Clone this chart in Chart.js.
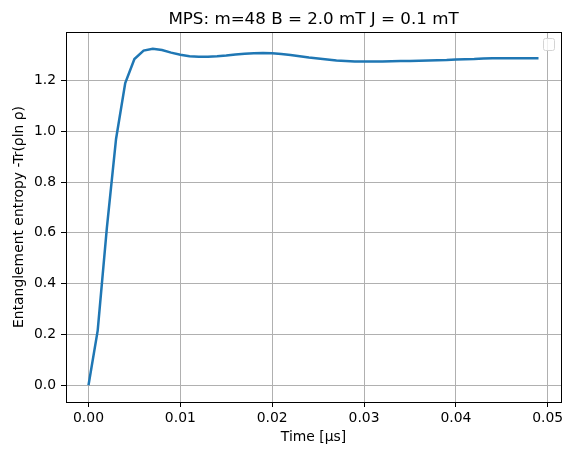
<!DOCTYPE html>
<html>
<head>
<meta charset="utf-8">
<script src="https://cdn.jsdelivr.net/npm/chart.js@4.4.1/dist/chart.umd.min.js"></script>
<style>
  html, body { margin: 0; padding: 0; background: #fff; }
  #wrap { width: 573px; height: 455px; }
</style>
</head>
<body>
<div id="wrap"><canvas id="chart"></canvas></div>
<script>
// time in microseconds
const times = [
  0.000, 0.001, 0.002, 0.003, 0.004, 0.005, 0.006, 0.007, 0.008, 0.009,
  0.010, 0.011, 0.012, 0.013, 0.014, 0.015, 0.016, 0.017, 0.018, 0.019,
  0.020, 0.021, 0.022, 0.023, 0.024, 0.025, 0.026, 0.027, 0.028, 0.029,
  0.030, 0.031, 0.032, 0.033, 0.034, 0.035, 0.036, 0.037, 0.038, 0.039,
  0.040, 0.041, 0.042, 0.043, 0.044, 0.045, 0.046, 0.047, 0.048, 0.049
];
// entanglement entropy
const entropy = [
  0.000, 0.215, 0.620, 0.970, 1.190, 1.285, 1.318, 1.325, 1.320, 1.310,
  1.302, 1.296, 1.294, 1.294, 1.296, 1.299, 1.303, 1.306, 1.308, 1.309,
  1.308, 1.305, 1.301, 1.296, 1.291, 1.287, 1.283, 1.279, 1.277, 1.275,
  1.275, 1.275, 1.275, 1.276, 1.277, 1.277, 1.278, 1.279, 1.280, 1.281,
  1.283, 1.284, 1.285, 1.287, 1.288, 1.288, 1.288, 1.288, 1.288, 1.288
];
const xTicks = [0, 0.01, 0.02, 0.03, 0.04, 0.05];
const yTicks = [0, 0.2, 0.4, 0.6, 0.8, 1.0, 1.2];

const titleText = 'MPS: m=48 B = 2.0 mT J = 0.1 mT';
const FONT = 'DejaVu Sans';

// matplotlib style frame, title over the axes and the empty legend box
const mplExtras = {
  id: 'mplExtras',
  afterDraw(chart) {
    const { ctx, chartArea: a } = chart;
    ctx.save();
    ctx.strokeStyle = '#000';
    ctx.lineWidth = 1;
    ctx.strokeRect(Math.round(a.left) + 0.5, Math.round(a.top) + 0.5,
      Math.round(a.right - a.left), Math.round(a.bottom - a.top));

    // empty legend
    const lx = a.right - 18, ly = a.top + 6;
    ctx.beginPath();
    ctx.roundRect(lx + 0.5, ly + 0.5, 11, 12, 2);
    ctx.fillStyle = 'rgba(255,255,255,0.8)';
    ctx.fill();
    ctx.strokeStyle = '#d4d4d4';
    ctx.stroke();

    ctx.fillStyle = '#000';
    ctx.font = '16.7px "' + FONT + '"';
    ctx.textAlign = 'center';
    ctx.textBaseline = 'alphabetic';
    ctx.fillText(titleText, (a.left + a.right) / 2, a.top - 8);
    ctx.restore();
  }
};

function setTicks(list) {
  return scale => { scale.ticks = list.map(v => ({ value: v })); };
}

new Chart(document.getElementById('chart'), {
  type: 'line',
  data: {
    datasets: [{
      data: times.map((t, i) => ({ x: t, y: entropy[i] })),
      borderColor: '#1f77b4',
      borderWidth: 2.5,
      pointRadius: 0,
      tension: 0,
      fill: false
    }]
  },
  options: {
    responsive: true,
    maintainAspectRatio: false,
    animation: false,
    layout: { padding: { top: 32, right: 12, left: 0, bottom: 0 } },
    plugins: {
      legend: { display: false },
      tooltip: { enabled: false }
    },
    scales: {
      x: {
        type: 'linear',
        min: -0.00245,
        max: 0.05145,
        afterBuildTicks: setTicks(xTicks),
        afterFit: s => { s.height = 53; },
        grid: { color: '#b0b0b0', lineWidth: 1, tickColor: '#000', tickLength: 5 },
        border: { display: false },
        ticks: {
          color: '#000', padding: 3, maxRotation: 0,
          font: { family: FONT, size: 13.9 },
          callback: v => v.toFixed(2)
        },
        title: {
          display: true, text: 'Time [μs]', color: '#000',
          font: { family: FONT, size: 13.9 },
          padding: { top: 0, bottom: 9 }
        }
      },
      y: {
        type: 'linear',
        min: -0.06625,
        max: 1.39125,
        afterBuildTicks: setTicks(yTicks),
        afterFit: s => { s.width = 66; },
        grid: { color: '#b0b0b0', lineWidth: 1, tickColor: '#000', tickLength: 5 },
        border: { display: false },
        ticks: {
          color: '#000', padding: 5,
          font: { family: FONT, size: 13.9 },
          callback: v => v.toFixed(1)
        },
        title: {
          display: true, text: 'Entanglement entropy -Tr(ρln ρ)', color: '#000',
          font: { family: FONT, size: 13.9 },
          padding: { top: 11, bottom: 0 }
        }
      }
    }
  },
  plugins: [mplExtras]
});
</script>
</body>
</html>
